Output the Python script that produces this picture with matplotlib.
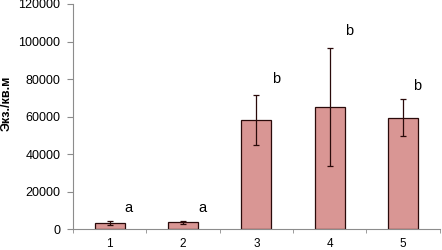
import numpy as np
import matplotlib.pyplot as plt

plt.rcParams['font.family'] = ['Liberation Sans', 'DejaVu Sans']

# Данные
categories = ['1', '2', '3', '4', '5']
means = [3300, 3600, 58000, 65300, 59500]
errors = [1100, 800, 13300, 31500, 10000]
letters = ['a', 'a', 'b', 'b', 'b']
letter_x = [0.25, 1.26, 2.27, 3.26, 4.19]
letter_y = [9400, 9400, 78000, 103600, 74300]

BAR_COLOR = '#D99694'
AXIS_COLOR = '#8C8C8C'

fig = plt.figure(figsize=(4.42, 2.5), dpi=100)
ax = fig.add_axes([0.165, 0.083, 0.83, 0.901])

x = np.arange(len(categories))
ax.bar(x, means, width=0.41, color=BAR_COLOR, edgecolor='#2a0a0a', linewidth=0.9,
       yerr=errors, error_kw=dict(ecolor='#2a0a0a', elinewidth=0.9, capsize=2.5, capthick=0.9))

for lx, lab, ly in zip(letter_x, letters, letter_y):
    ax.text(lx, ly, lab, fontsize=10.5, ha='center', va='baseline')

ax.set_xlim(-0.5, len(categories) - 0.5)
ax.set_ylim(0, 120000)
ax.set_yticks(np.arange(0, 120001, 20000))
ax.set_xticks(x)
ax.set_xticklabels(categories)
ax.set_xticks(np.arange(-0.5, len(categories) + 0.5, 1), minor=True)
ax.tick_params(axis='x', which='major', length=0, labelsize=8.5, pad=6)
ax.tick_params(axis='x', which='minor', length=3, color=AXIS_COLOR, direction='out')
ax.tick_params(axis='y', length=4, color=AXIS_COLOR, labelsize=9, pad=5)

for side in ['top', 'right']:
    ax.spines[side].set_visible(False)
for side in ['left', 'bottom']:
    ax.spines[side].set_color(AXIS_COLOR)
    ax.spines[side].set_linewidth(0.8)

# подпись оси Y
fig.text(0.016, 0.586, 'Экз./кв.м', fontsize=9, fontweight='bold',
         rotation=90, ha='center', va='center')

plt.savefig('out.png', dpi=100)
